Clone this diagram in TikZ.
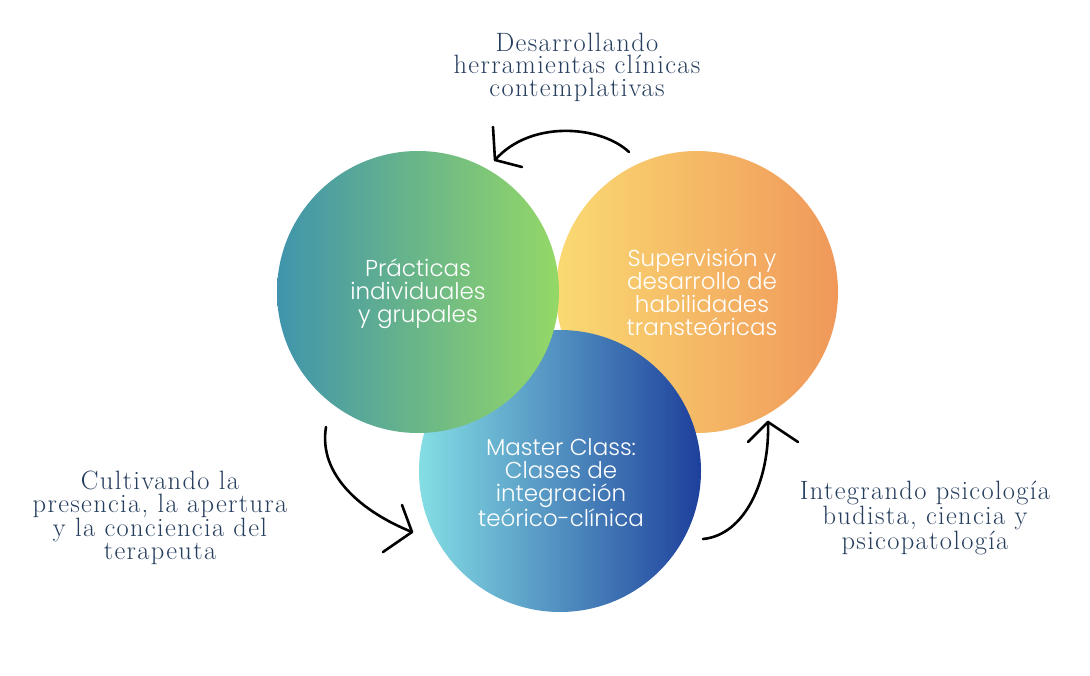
\documentclass[tikz,border=0pt]{standalone}
\usepackage{fontspec}
\setmainfont{Latin Modern Roman}[LetterSpace=5]
\newfontfamily\circfont{Poppins Light}
\definecolor{txt}{RGB}{38,62,94}
\definecolor{gL}{RGB}{64,148,172}
\definecolor{gR}{RGB}{148,216,102}
\definecolor{oL}{RGB}{250,218,114}
\definecolor{oR}{RGB}{240,152,90}
\definecolor{bL}{RGB}{132,222,228}
\definecolor{bR}{RGB}{30,64,156}
\tikzset{
  blob/.style={circle, inner sep=0pt, minimum size=282pt},
  intext/.style={text=white, align=center, font=\circfont\fontsize{23}{23}\selectfont},
  outtext/.style={text=txt, align=center, font=\fontsize{26.5}{22.5}\selectfont},
  hand/.style={line width=2.6pt, line cap=round, line join=round, black}
}
\begin{document}
\begin{tikzpicture}[x=1pt,y=-1pt]
\useasboundingbox (0,0) rectangle (1090,676);
\node[blob, left color=oL, right color=oR] (o) at (697,292) {};
\node[blob, left color=bL, right color=bR] (b) at (560,471) {};
\node[blob, left color=gL, right color=gR] (g) at (418,292) {};
\node[intext] (gt) at (418,294) {Prácticas\\individuales\\y grupales};
\node[intext] (ot) at (702,292) {Supervisión y\\desarrollo de\\habilidades\\transteóricas};
\node[intext] (bt) at (561,483) {Master Class:\\Clases de\\integración\\teórico-clínica};
\node[outtext] (t1) at (577,67) {Desarrollando\\herramientas clínicas\\contemplativas};
\node[outtext] (t2) at (160,518) {Cultivando la\\presencia, la apertura\\y la conciencia del\\terapeuta};
\node[outtext] (t3) at (925,518) {Integrando psicología\\budista, ciencia y\\psicopatología};
% top arrow
\coordinate (a1s) at (629,152);
\coordinate (a1t) at (495,160);
\coordinate (a1p) at (493,127);
\coordinate (a1q) at (522,167);
\draw[hand] (a1s) .. controls (600,125) and (530,120) .. (a1t);
\draw[hand] (a1p) -- (a1t) -- (a1q);
% left arrow
\coordinate (a2s) at (326,427);
\coordinate (a2t) at (412,532);
\coordinate (a2p) at (402,505);
\coordinate (a2q) at (383,552);
\draw[hand] (a2s) .. controls (318,475) and (362,512) .. (a2t);
\draw[hand] (a2p) -- (a2t) -- (a2q);
% right arrow
\coordinate (a3s) at (703,539);
\coordinate (a3t) at (768,422);
\coordinate (a3p) at (748,442);
\coordinate (a3q) at (798,442);
\draw[hand] (a3s) .. controls (745,535) and (770,480) .. (a3t);
\draw[hand] (a3p) -- (a3t) -- (a3q);
\end{tikzpicture}
\end{document}
